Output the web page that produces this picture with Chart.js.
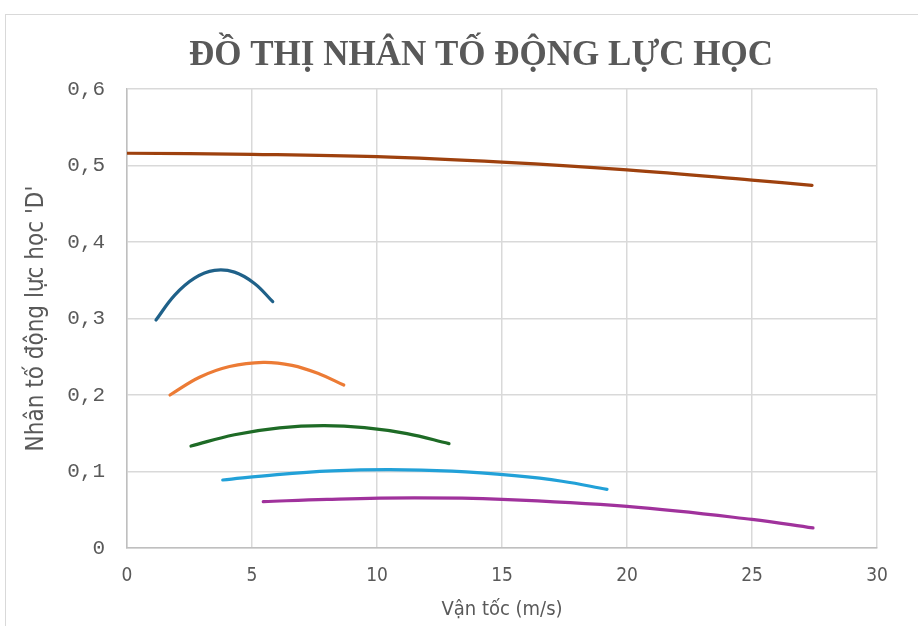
<!DOCTYPE html>
<html>
<head>
<meta charset="utf-8">
<script src="https://cdn.jsdelivr.net/npm/chart.js@4/dist/chart.umd.min.js"></script>
<style>
  html, body { margin: 0; padding: 0; background: #fff; }
  #wrap { width: 918px; height: 626px; }
</style>
</head>
<body>
<div id="wrap"><canvas id="dChart" width="918" height="626"></canvas></div>
<script>
// Dữ liệu đọc từ đồ thị
var chartTitle = 'ĐỒ THỊ NHÂN TỐ ĐỘNG LỰC HỌC';
var xTitle = 'Vận tốc (m/s)';
var yTitle = "Nhân tố động lực học 'D'";

var vD0 = [0, 5, 10, 15, 20, 25, 27.4];
var dD0 = [0.516, 0.5146, 0.5115, 0.5044, 0.4944, 0.481, 0.474];

var v1 = [1.16, 1.9, 2.7, 3.5, 4.3, 5.1, 5.83];
var d1 = [0.298, 0.3303, 0.3528, 0.3629, 0.3606, 0.3458, 0.322];

var v2 = [1.72, 2.9, 4.1, 5.45, 6.6, 7.7, 8.67];
var d2 = [0.200, 0.2232, 0.2372, 0.2427, 0.2387, 0.2275, 0.213];

var v3 = [2.56, 4.3, 6.1, 7.85, 9.5, 11.2, 12.88];
var d3 = [0.1333, 0.1481, 0.1571, 0.160, 0.1574, 0.1495, 0.1364];

var v4 = [3.83, 6, 8.2, 10.5, 13, 15.5, 17.4, 19.2];
var d4 = [0.0889, 0.096, 0.1008, 0.1025, 0.1005, 0.0945, 0.0873, 0.0767];

var v5 = [5.45, 8, 11.5, 15, 20, 25, 27.44];
var d5 = [0.0605, 0.0636, 0.0655, 0.0636, 0.0544, 0.0374, 0.0262];

var lineColors = ['#9E410E', '#1F6189', '#EC7B35', '#1E6B26', '#22A1D8', '#A0329C'];

function pts(xs, ys) {
    return xs.map(function (x, i) { return { x: x, y: ys[i] }; });
}

var series = [pts(vD0, dD0), pts(v1, d1), pts(v2, d2), pts(v3, d3), pts(v4, d4), pts(v5, d5)];

var datasets = series.map(function (s, i) {
    return {
        data: s,
        borderColor: lineColors[i],
        backgroundColor: lineColors[i],
        borderWidth: 3.2,
        pointRadius: 0,
        tension: 0.4,
        borderCapStyle: 'round',
        fill: false
    };
});

// Khung viền và tiêu đề
var framePlugin = {
    id: 'frame',
    beforeDraw: function (chart) {
        var c = chart.ctx;
        c.save();
        c.fillStyle = '#fff';
        c.fillRect(0, 0, chart.width, chart.height);
        c.strokeStyle = '#D9D9D9';
        c.lineWidth = 1;
        c.strokeRect(5.5, 14.5, 1000, 1000);
        c.restore();
    },
    afterDraw: function (chart) {
        var c = chart.ctx;
        c.save();
        c.fillStyle = '#595959';
        c.font = 'bold 35px "Liberation Serif", "DejaVu Serif", serif';
        c.textAlign = 'center';
        c.textBaseline = 'middle';
        c.fillText(chartTitle, 481, 56);
        c.restore();
    }
};

var ctx = document.getElementById('dChart').getContext('2d');
var dChart = new Chart(ctx, {
    type: 'line',
    data: { datasets: datasets },
    plugins: [framePlugin],
    options: {
        responsive: false,
        animation: false,
        layout: { padding: { top: 89, right: 41, bottom: 0, left: 0 } },
        plugins: {
            legend: { display: false },
            tooltip: { enabled: false },
            title: { display: false }
        },
        scales: {
            x: {
                type: 'linear',
                min: 0,
                max: 30,
                ticks: {
                    stepSize: 5,
                    padding: 17,
                    color: '#595959',
                    font: { family: '"DejaVu Sans Condensed", "Liberation Sans Narrow", sans-serif', size: 19 }
                },
                grid: { color: '#D9D9D9', lineWidth: 1.5, drawTicks: false },
                border: { color: '#BFBFBF', width: 1.5 },
                title: {
                    display: true,
                    text: xTitle,
                    color: '#595959',
                    font: { family: '"DejaVu Sans Condensed", sans-serif', size: 20 },
                    padding: { top: 2 }
                },
                afterFit: function (scale) { scale.height = 78; }
            },
            y: {
                min: 0,
                max: 0.6,
                ticks: {
                    stepSize: 0.1,
                    padding: 22,
                    color: '#595959',
                    font: { family: '"Liberation Mono", monospace', size: 21 },
                    callback: function (v) { return v === 0 ? '0' : v.toFixed(1).replace('.', ','); }
                },
                grid: { color: '#D9D9D9', lineWidth: 1.5, drawTicks: false },
                border: { color: '#BFBFBF', width: 1.5 },
                title: {
                    display: true,
                    text: yTitle,
                    color: '#595959',
                    font: { family: '"DejaVu Sans Condensed", sans-serif', size: 24 },
                    padding: { top: 22 }
                },
                afterFit: function (scale) { scale.width = 127; }
            }
        }
    }
});
</script>
</body>
</html>
